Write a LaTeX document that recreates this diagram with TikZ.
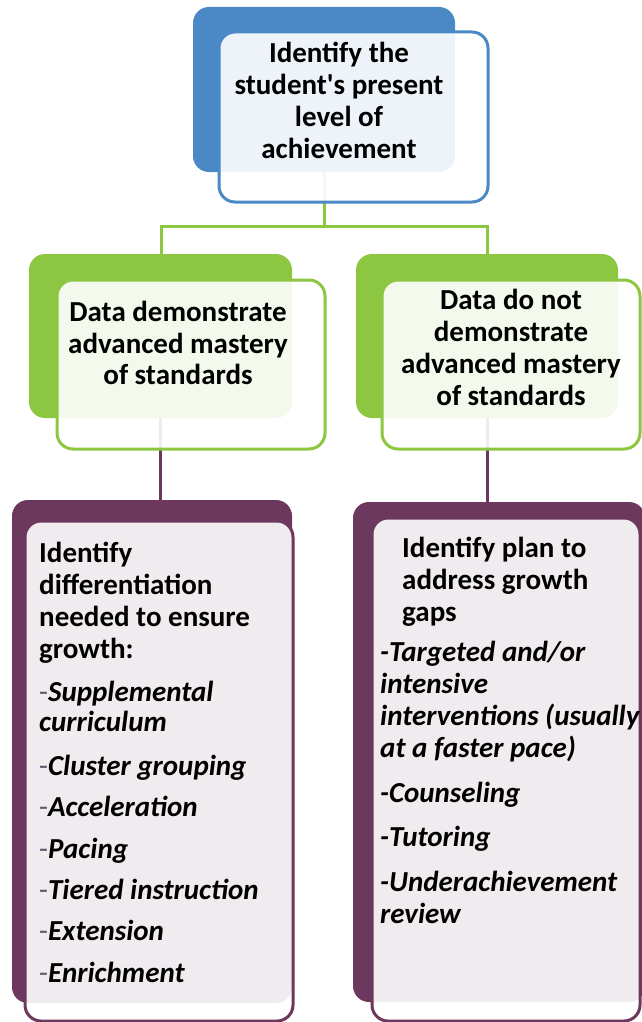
\documentclass[tikz,border=0pt]{standalone}
\usepackage{fontspec}
\setmainfont{Carlito}[Ligatures=TeXOff]
\definecolor{cblue}{RGB}{74,136,198}
\definecolor{cgreen}{RGB}{141,198,65}
\definecolor{cpurple}{RGB}{109,56,94}
\definecolor{cdash}{RGB}{90,90,110}
\newcommand{\gdash}{{\normalfont\color{cdash}-}}
\begin{document}
\begin{tikzpicture}[x=1pt,y=-1pt,
  backbox/.style={rounded corners=16pt, inner sep=0pt, outer sep=0pt, anchor=north west, fill=#1, draw=none},
  frontbox/.style={rounded corners=16pt, inner sep=0pt, outer sep=0pt, anchor=north west, fill=white, fill opacity=0.9, draw=#1, line width=3pt},
  conn/.style={line width=3pt, draw=#1},
  headtxt/.style={font=\fontsize{29}{32}\selectfont\bfseries, align=center, inner sep=0pt, anchor=north, text=black},
  listtxt/.style={font=\fontsize{29}{32}\selectfont\bfseries, align=left, inner sep=0pt, anchor=north west, text=black}
]
\useasboundingbox (0,0) rectangle (642,1022);

% connector corner points
\coordinate (hL) at (161,226);
\coordinate (hR) at (487,226);
\coordinate (hM) at (324,226);

% boxes: back
\node[backbox=cblue, minimum width=262pt, minimum height=165pt] (topB) at (193,7) {};
\node[backbox=cgreen, minimum width=263pt, minimum height=164pt] (gLB) at (29,254) {};
\node[backbox=cgreen, minimum width=262pt, minimum height=164pt] (gRB) at (356,254) {};
\node[backbox=cpurple, minimum width=280pt, minimum height=503pt] (pLB) at (12,500) {};
\node[backbox=cpurple, minimum width=292pt, minimum height=500pt] (pRB) at (353,502) {};

\draw[conn=cgreen] (topB.south) -- (hM);
\draw[conn=cgreen] (hL |- gLB.north) -- (hL) -- (hR) -- (hR |- gRB.north);
\draw[conn=cpurple] (gLB.south) -- (gLB.south |- pLB.north);
\draw[conn=cpurple] (gRB.south) -- (gRB.south |- pRB.north);

% boxes: front
\node[frontbox=cblue, minimum width=269pt, minimum height=170pt] (topF) at (219,32) {};
\node[frontbox=cgreen, minimum width=268pt, minimum height=169pt] (gLF) at (57,280) {};
\node[frontbox=cgreen, minimum width=258pt, minimum height=169pt] (gRF) at (382,280) {};
\node[frontbox=cpurple, minimum width=268pt, minimum height=500pt] (pLF) at (25,521) {};
\node[frontbox=cpurple, minimum width=268pt, minimum height=503pt] (pRF) at (372,518) {};

% texts
\node[headtxt] (topT) at (339,42) {Identify the\\student's present\\level of\\achievement};
\node[headtxt, font=\fontsize{29}{31.5}\selectfont\bfseries] (gLT) at (178,301) {Data demonstrate\\advanced mastery\\of standards};
\node[headtxt] (gRT) at (511,289) {Data do not\\demonstrate\\advanced mastery\\of standards};

\node[listtxt] (pLH) at (39,542) {Identify\\differentiation\\needed to ensure\\growth:};
\node[listtxt, font=\fontsize{29}{30}\selectfont\bfseries] (pLL) at (39,681) {%
\gdash\textit{Supplemental}\\\textit{curriculum}\\[14pt]
\gdash\textit{Cluster grouping}\\[11pt]
\gdash\textit{Acceleration}\\[12pt]
\gdash\textit{Pacing}\\[11pt]
\gdash\textit{Tiered instruction}\\[11pt]
\gdash\textit{Extension}\\[12pt]
\gdash\textit{Enrichment}};

\node[listtxt] (pRH) at (402,537) {Identify plan to\\address growth\\gaps};
\node[listtxt, font=\fontsize{29}{32}\selectfont\bfseries\itshape] (pRL) at (380,641) {%
-Targeted and/or\\intensive\\interventions (usually\\at a faster pace)\\[13pt]
-Counseling\\[12pt]
-Tutoring\\[13pt]
-Underachievement\\review};
\end{tikzpicture}
\end{document}
